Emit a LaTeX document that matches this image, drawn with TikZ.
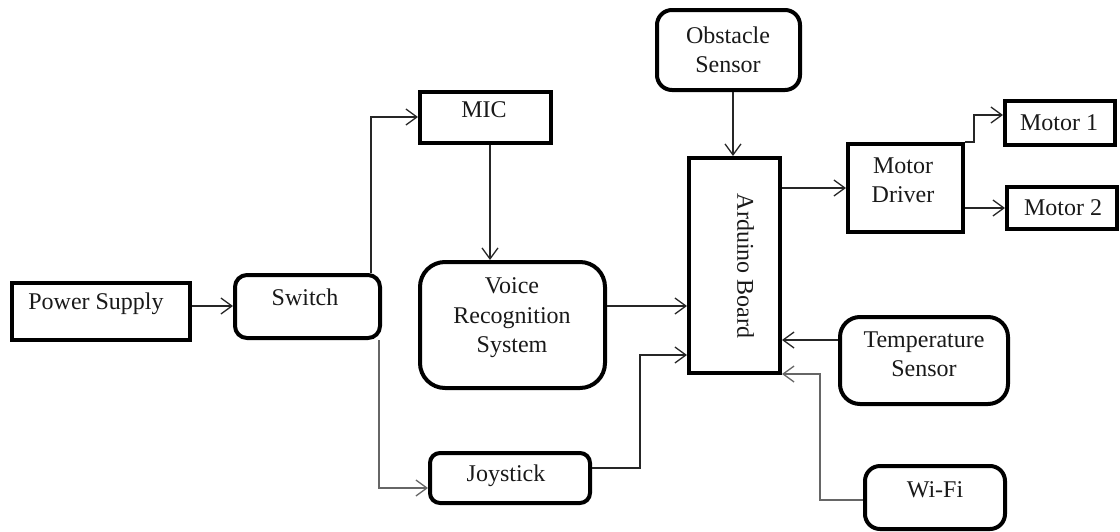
\documentclass[tikz,border=0pt]{standalone}
\usepackage{fontspec}
\setmainfont{Liberation Serif}
\usetikzlibrary{arrows.meta}
\begin{document}
\begin{tikzpicture}[x=1pt,y=-1pt,
  sqbox/.style={draw=black,line width=4pt,rectangle,inner sep=0pt},
  rbox/.style={draw=black,line width=4pt,rectangle,rounded corners=#1,inner sep=0pt},
  rbox/.default=12pt,
  lbl/.style={font=\fontsize{24}{29.5}\selectfont,align=center,inner sep=0pt,text=black!90},
  arr/.style={line width=1.4pt,draw=black!85,-{Straight Barb[length=11pt,width=16pt,line width=1.3pt]}},
  garr/.style={arr,draw=black!60}
]
\useasboundingbox (0,0) rectangle (1120,531);
% boxes
\node[sqbox,minimum width=178pt,minimum height=57pt] (ps) at (101,311.5) {};
\node[rbox=12pt,minimum width=145pt,minimum height=63pt] (sw) at (307.5,306.5) {};
\node[sqbox,minimum width=131pt,minimum height=51pt] (mic) at (485.5,117.5) {};
\node[rbox=25pt,minimum width=185pt,minimum height=126pt] (vr) at (512.5,325) {};
\node[rbox=10pt,minimum width=160pt,minimum height=50pt] (joy) at (510,478) {};
\node[sqbox,minimum width=91pt,minimum height=215pt] (ard) at (734.5,265.5) {};
\node[rbox=15pt,minimum width=143pt,minimum height=80pt] (obs) at (728.5,50) {};
\node[sqbox,minimum width=115pt,minimum height=88pt] (md) at (905.5,188) {};
\node[sqbox,minimum width=110pt,minimum height=44pt] (m1) at (1060,123) {};
\node[sqbox,minimum width=110pt,minimum height=42pt] (m2) at (1062,208) {};
\node[rbox=20pt,minimum width=168pt,minimum height=87pt] (ts) at (924,360.5) {};
\node[rbox=15pt,minimum width=140pt,minimum height=63pt] (wf) at (935,497.5) {};
% labels
\node[lbl] (psT) at (96,304) {Power Supply};
\node[lbl] (swT) at (305,297) {Switch};
\node[lbl] (micT) at (484,110) {MIC};
\node[lbl] (vrT) at (512,318) {Voice\\Recognition\\System};
\node[lbl] (joyT) at (506,476) {Joystick};
\node[lbl,rotate=-90] (ardT) at (745.5,266) {Arduino Board};
\node[lbl] (obsT) at (728,50) {Obstacle\\Sensor};
\node[lbl] (mdT) at (903,180.5) {Motor\\Driver};
\node[lbl] (m1T) at (1059,123) {Motor 1};
\node[lbl] (m2T) at (1063,208) {Motor 2};
\node[lbl] (tsT) at (924,354.5) {Temperature\\Sensor};
\node[lbl] (wfT) at (935,490) {Wi-Fi};
% helper coordinates (yshift is in canvas direction: positive = up)
\coordinate (p1) at ([yshift=5.5pt]ps.east);
\coordinate (s1) at ([xshift=-11pt]sw.north east);
\coordinate (mw) at ([yshift=0.5pt]mic.west);
\coordinate (s2) at ([xshift=-3pt]sw.south east);
\coordinate (jw) at ([yshift=-10pt]joy.west);
\coordinate (mc) at ([xshift=4.5pt]mic.south);
\coordinate (v1) at ([yshift=19pt]vr.east);
\coordinate (j1) at ([yshift=10pt]joy.east);
\coordinate (j2) at ([yshift=-89.5pt]ard.west);
\coordinate (o1) at ([xshift=4.5pt]obs.south);
\coordinate (m1w) at ([yshift=8pt]m1.west);
\coordinate (t1) at ([yshift=20.5pt]ts.west);
\coordinate (w1) at ([yshift=-2.5pt]wf.west);
\coordinate (w2) at ([yshift=1pt]ard.south east);
% connectors
\draw[arr] (p1) -- (p1 -| sw.west);
\draw[arr] (s1) |- (mw);
\draw[garr] (s2) |- (jw);
\draw[arr] (mc) -- (mc |- vr.north);
\draw[arr] (v1) -- (v1 -| ard.west);
\draw[arr] (j1) -- ++(48,0) |- (j2);
\draw[arr] (o1) -- (o1 |- ard.north);
\draw[arr] (md.west -| ard.east) -- (md.west);
\draw[arr] (md.north east) -- ++(9,0) |- (m1w);
\draw[arr] (md.east |- m2.west) -- (m2.west);
\draw[arr] (t1) -- (t1 -| ard.east);
\draw[garr] (w1) -- ++(-43,0) |- (w2);
\end{tikzpicture}
\end{document}
